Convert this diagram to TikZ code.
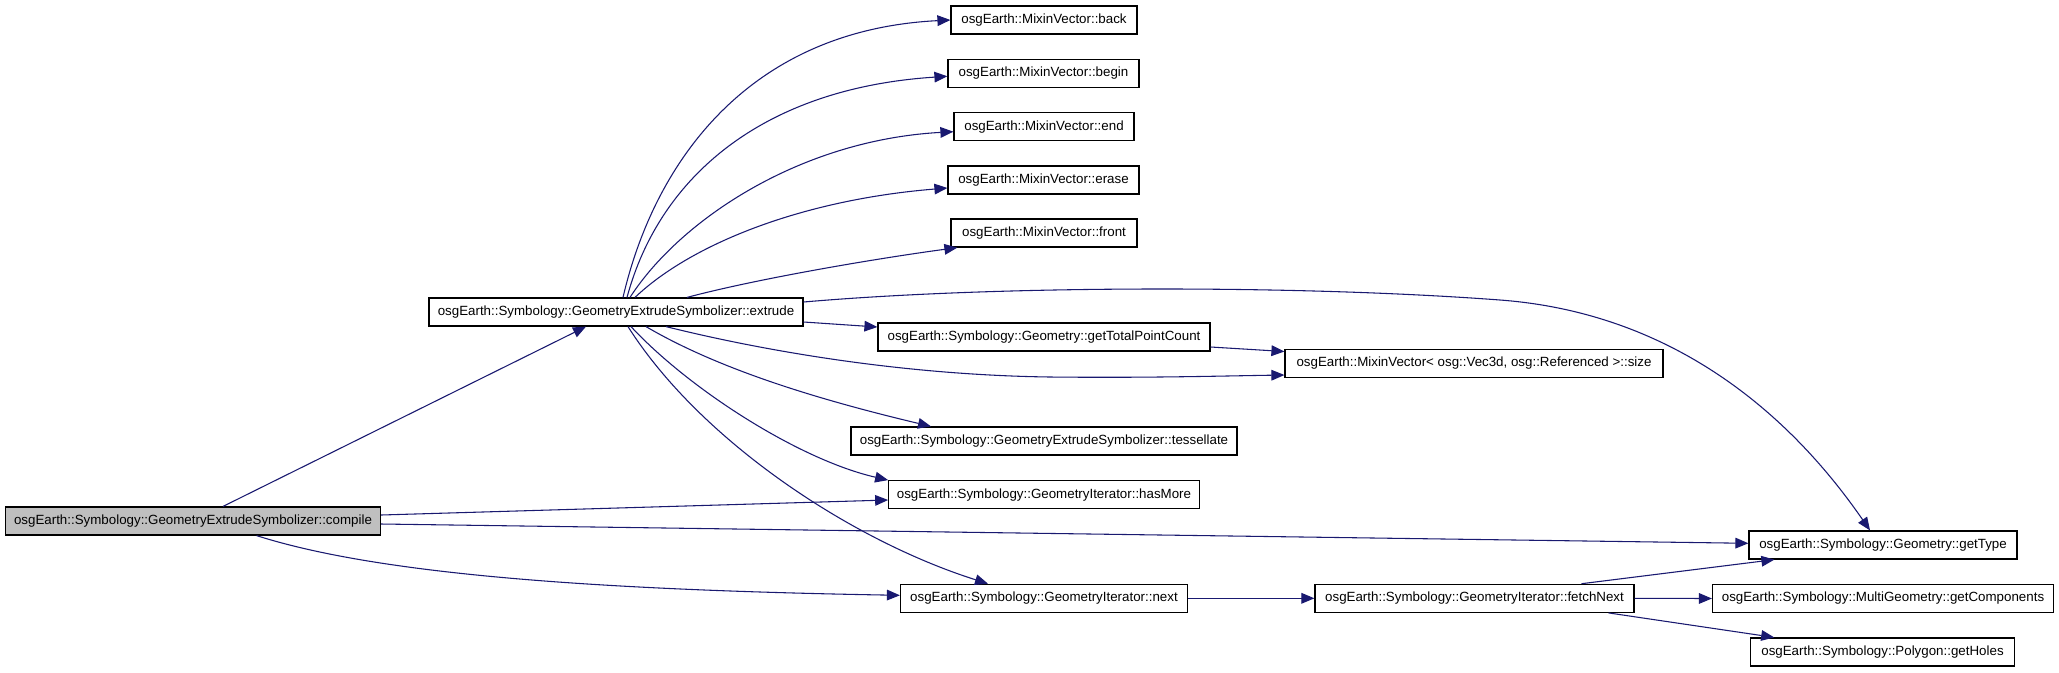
\documentclass[tikz,border=0pt]{standalone}
\usepackage{fontspec}
\setmainfont{Liberation Sans}
\usetikzlibrary{arrows.meta,calc}
\definecolor{edgeblue}{HTML}{191970}
\definecolor{rootgray}{HTML}{BFBFBF}
\tikzset{
  fn/.style={draw=black, line width=0.9pt, fill=white, rectangle, minimum height=21pt,
    inner sep=0pt, font=\fontsize{10pt}{12pt}\selectfont},
  root/.style={fn, fill=rootgray},
  edge/.style={draw=edgeblue, line width=0.8pt, -{Triangle[length=9.75pt,width=8pt]}, edgeblue}
}
\begin{document}
\begin{tikzpicture}[x=0.75pt,y=-0.75pt]
\useasboundingbox[fill=white] (0,0) rectangle (2059,672);
% nodes
\node[root, minimum width=281.25pt] (compile) at (193,521) {osgEarth::Symbology::GeometryExtrudeSymbolizer::compile};
\node[fn, minimum width=280.5pt] (extrude) at (616,312) {osgEarth::Symbology::GeometryExtrudeSymbolizer::extrude};
\node[fn, minimum width=139.5pt] (back) at (1044,20) {osgEarth::MixinVector::back};
\node[fn, minimum width=143.25pt] (begin) at (1043.5,73.3) {osgEarth::MixinVector::begin};
\node[fn, minimum width=135pt] (endn) at (1044,126.7) {osgEarth::MixinVector::end};
\node[fn, minimum width=143.25pt] (erase) at (1043.5,180) {osgEarth::MixinVector::erase};
\node[fn, minimum width=139.5pt] (front) at (1044,233) {osgEarth::MixinVector::front};
\node[fn, minimum width=249pt] (gtpc) at (1044,337) {osgEarth::Symbology::Geometry::getTotalPointCount};
\node[fn, minimum width=283.5pt] (size) at (1474,363.5) {osgEarth::MixinVector< osg::Vec3d, osg::Referenced >::size};
\node[fn, minimum width=289.5pt] (tess) at (1044,441) {osgEarth::Symbology::GeometryExtrudeSymbolizer::tessellate};
\node[fn, minimum width=232.9pt] (hasmore) at (1044,494.7) {osgEarth::Symbology::GeometryIterator::hasMore};
\node[fn, minimum width=215.25pt] (next) at (1044,598.3) {osgEarth::Symbology::GeometryIterator::next};
\node[fn, minimum width=239.25pt] (fetch) at (1474.5,598.3) {osgEarth::Symbology::GeometryIterator::fetchNext};
\node[fn, minimum width=201pt] (gettype) at (1883,545) {osgEarth::Symbology::Geometry::getType};
\node[fn, minimum width=255.75pt] (getcomp) at (1883,598.5) {osgEarth::Symbology::MultiGeometry::getComponents};
\node[fn, minimum width=197.6pt] (getholes) at (1882.5,652) {osgEarth::Symbology::Polygon::getHoles};
% edges from compile
\draw[edge] ($(compile.north)+(30,0)$) -- ($(extrude.south)+(-30,0)$);
\draw[edge] ($(compile.east)+(0,-6)$) -- ($(hasmore.west)+(0,5.3)$);
\draw[edge] ($(compile.east)+(0,3)$) -- ($(gettype.west)+(0,-1.7)$);
\draw[edge] ($(compile.south)+(63.6,0)$) .. controls (380,575) and (600,590) .. ($(next.west)+(0,-3)$);
% edges from extrude
\draw[edge] ($(extrude.north)+(7,0)$) .. controls (655,160) and (750,30) .. (back.west);
\draw[edge] ($(extrude.north)+(11,0)$) .. controls (660,175) and (765,88) .. ($(begin.west)+(0,3)$);
\draw[edge] ($(extrude.north)+(14,0)$) .. controls (680,220) and (800,140) .. ($(endn.west)+(0,5)$);
\draw[edge] ($(extrude.north)+(19,0)$) .. controls (690,245) and (800,200) .. ($(erase.west)+(0,8)$);
\draw[edge] ($(extrude.north)+(71,0)$) .. controls (760,278) and (880,258) .. ($(front.south west)+(7,0)$);
\draw[edge] ($(extrude.east)+(0,-10)$) .. controls (1000,285) and (1300,285) .. (1500,300)
   .. controls (1660,312) and (1780,400) .. ($(gettype.north)+(-13,0)$);
\draw[edge] ($(extrude.east)+(0,10)$) -- ($(gtpc.west)+(0,-10)$);
\draw[edge] ($(extrude.south)+(50,0)$) .. controls (760,350) and (900,375) .. (1050,377)
   .. controls (1150,378) and (1220,376) .. ($(size.west)+(0,11.5)$);
\draw[edge] ($(extrude.south)+(30,0)$) .. controls (720,370) and (820,400) .. ($(tess.north)+(-113,0)$);
\draw[edge] ($(extrude.south)+(15,0)$) .. controls (690,390) and (800,460) .. (hasmore.north west);
\draw[edge] ($(extrude.south)+(12,0)$) .. controls (700,440) and (850,540) .. ($(next.north)+(-56,0)$);
% other edges
\draw[edge] ($(gtpc.east)+(0,10)$) -- ($(size.west)+(0,-12)$);
\draw[edge] (next.east) -- (fetch.west);
\draw[edge] ($(fetch.north)+(107,0)$) -- ($(gettype.south west)+(26,0)$);
\draw[edge] (fetch.east) -- (getcomp.west);
\draw[edge] ($(fetch.south)+(134,0)$) -- ($(getholes.north west)+(24,0)$);
\end{tikzpicture}
\end{document}
